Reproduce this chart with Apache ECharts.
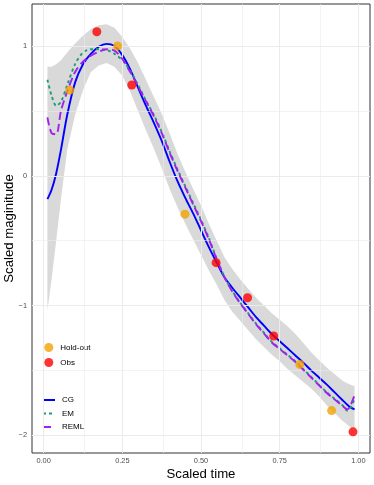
<!DOCTYPE html>
<html>
<head>
<meta charset="utf-8">
<script src="https://cdn.jsdelivr.net/npm/echarts@6/dist/echarts.min.js"></script>
<style>
  html, body { margin: 0; padding: 0; background: #fff; }
  #chart { width: 374px; height: 485px; }
</style>
</head>
<body>
<div id="chart"></div>
<script>
// scaled time grid used by fitted curves and the confidence band
var timeGrid = [0.012, 0.025, 0.04, 0.055, 0.075, 0.1, 0.125, 0.15, 0.175, 0.2, 0.225, 0.25, 0.275, 0.3,
  0.325, 0.35, 0.375, 0.4, 0.425, 0.45, 0.475, 0.5, 0.525, 0.55, 0.575, 0.6, 0.625, 0.65, 0.675, 0.7,
  0.725, 0.75, 0.775, 0.8, 0.825, 0.85, 0.875, 0.9, 0.925, 0.95, 0.965, 0.975, 0.988];

// fitted curves
var cgFit = [-0.18, -0.11, 0.02, 0.2, 0.47, 0.72, 0.86, 0.94, 0.995, 1.017, 1.0, 0.93, 0.82, 0.68,
  0.54, 0.41, 0.27, 0.11, -0.04, -0.17, -0.29, -0.42, -0.55, -0.67, -0.785, -0.865, -0.94, -1.015, -1.09, -1.155,
  -1.22, -1.275, -1.33, -1.385, -1.44, -1.5, -1.555, -1.61, -1.67, -1.73, -1.765, -1.785, -1.8];
var emFit = [0.74, 0.62, 0.54, 0.57, 0.7, 0.86, 0.95, 0.975, 0.975, 0.97, 0.94, 0.89, 0.81, 0.7,
  0.58, 0.47, 0.34, 0.19, 0.05, -0.08, -0.21, -0.34, -0.48, -0.64, -0.78, -0.89, -0.98, -1.06, -1.14, -1.21,
  -1.28, -1.33, -1.38, -1.43, -1.49, -1.55, -1.61, -1.67, -1.72, -1.77, -1.81, -1.79, -1.72];
var remlFit = [0.45, 0.33, 0.32, 0.5, 0.65, 0.8, 0.88, 0.925, 0.955, 0.975, 0.965, 0.9, 0.8, 0.69,
  0.575, 0.46, 0.33, 0.18, 0.04, -0.09, -0.22, -0.35, -0.49, -0.645, -0.785, -0.895, -0.985, -1.065, -1.145, -1.215,
  -1.285, -1.335, -1.385, -1.435, -1.495, -1.555, -1.615, -1.675, -1.725, -1.775, -1.8, -1.77, -1.69];

// grey band around CG
var bandLower = [-1.04, -0.8, -0.5, -0.18, 0.2, 0.47, 0.66, 0.8, 0.85, 0.87, 0.84, 0.77, 0.65, 0.5,
  0.35, 0.21, 0.06, -0.1, -0.24, -0.37, -0.49, -0.61, -0.73, -0.84, -0.96, -1.05, -1.12, -1.19, -1.26, -1.32,
  -1.38, -1.43, -1.49, -1.54, -1.59, -1.64, -1.7, -1.77, -1.83, -1.89, -1.92, -1.94, -1.95];
var bandUpper = [0.84, 0.84, 0.86, 0.89, 0.95, 1.02, 1.08, 1.13, 1.16, 1.167, 1.14, 1.07, 0.98, 0.87,
  0.74, 0.61, 0.48, 0.33, 0.17, 0.03, -0.1, -0.23, -0.37, -0.5, -0.63, -0.72, -0.8, -0.87, -0.94, -1.0,
  -1.06, -1.11, -1.16, -1.22, -1.29, -1.36, -1.42, -1.48, -1.53, -1.58, -1.6, -1.61, -1.62];

// points
var holdOutTime = [0.083, 0.235, 0.449, 0.814, 0.915];
var holdOutMag = [0.66, 1.0, -0.296, -1.454, -1.81];
var obsTime = [0.169, 0.28, 0.548, 0.648, 0.731, 0.983];
var obsMag = [1.11, 0.70, -0.67, -0.94, -1.235, -1.974];

// axis ticks
var xTicks = [0, 0.25, 0.5, 0.75, 1];
var xMinor = [0.125, 0.375, 0.625, 0.875];
var yTicks = [-2, -1, 0, 1];
var yMinor = [-1.5, -0.5, 0.5];

var font = 'Liberation Sans, Arial, sans-serif';

function pairs(xs, ys) {
  return xs.map(function (x, i) { return [x, ys[i]]; });
}

var bandRows = timeGrid.map(function (t, i) { return [t, bandLower[i], bandUpper[i]]; });

var gridLines = [];
xTicks.forEach(function (v) { gridLines.push({xAxis: v}); });
yTicks.forEach(function (v) { gridLines.push({yAxis: v}); });
xMinor.forEach(function (v) { gridLines.push({xAxis: v, lineStyle: {width: 0.6}}); });
yMinor.forEach(function (v) { gridLines.push({yAxis: v, lineStyle: {width: 0.6}}); });

// whole band as one polygon, drawn once
function renderBand(params, api) {
  if (params.dataIndex !== 0) return null;
  var pts = [];
  bandRows.forEach(function (r) { pts.push(api.coord([r[0], r[2]])); });
  for (var i = bandRows.length - 1; i >= 0; i--) {
    pts.push(api.coord([bandRows[i][0], bandRows[i][1]]));
  }
  return {
    type: 'polygon',
    shape: {points: pts},
    style: {fill: '#d9d9d9', stroke: null}
  };
}

var chart = echarts.init(document.getElementById('chart'));

var lineLegendText = {fontSize: 8, color: '#000', fontFamily: font, padding: [0, 0, 0, 2]};

var option = {
  animation: false,
  backgroundColor: '#fff',
  textStyle: {fontFamily: font},
  grid: {
    left: 32, right: 4, top: 4, bottom: 32,
    containLabel: false, outerBoundsMode: 'none',
    show: true, borderColor: '#333', borderWidth: 1, backgroundColor: 'transparent'
  },
  legend: [{
    data: ['Hold-out', 'Obs'],
    orient: 'vertical', left: 39.3, top: 330,
    padding: [13, 5, 7, 5],
    backgroundColor: '#fff',
    icon: 'circle', itemWidth: 9, itemHeight: 9, itemGap: 6,
    textStyle: lineLegendText
  }, {
    data: ['CG', 'EM', 'REML'],
    orient: 'vertical', left: 37, top: 392,
    padding: [4, 5, 6, 5],
    backgroundColor: '#fff',
    itemWidth: 12, itemHeight: 9, itemGap: 5.5,
    itemStyle: {opacity: 0},
    textStyle: lineLegendText
  }],
  xAxis: {
    type: 'value', min: -0.037, max: 1.037,
    axisLine: {show: false},
    splitLine: {show: false},
    axisTick: {show: true, customValues: xTicks, length: 3, lineStyle: {color: '#333', width: 0.8}},
    axisLabel: {
      customValues: xTicks, fontSize: 7.4, color: '#4d4d4d', margin: 4.5, fontFamily: font,
      formatter: function (v) { return v.toFixed(2); }
    },
    name: 'Scaled time', nameLocation: 'middle', nameGap: 14.5, nameMoveOverlap: false,
    nameTextStyle: {fontSize: 13.2, color: '#000', fontFamily: font}
  },
  yAxis: {
    type: 'value', min: -2.137, max: 1.324,
    axisLine: {show: false},
    splitLine: {show: false},
    axisTick: {show: true, customValues: yTicks, length: 3, lineStyle: {color: '#333', width: 0.8}},
    axisLabel: {
      customValues: yTicks, fontSize: 7.4, color: '#4d4d4d', margin: 5, fontFamily: font,
      formatter: function (v) { return v < 0 ? '\u2212' + Math.abs(v) : String(v); }
    },
    name: 'Scaled maginitude', nameLocation: 'middle', nameGap: 16, nameMoveOverlap: false,
    nameTextStyle: {fontSize: 13.2, color: '#000', fontFamily: font}
  },
  series: [
    {
      name: 'gridlines', type: 'line', z: 1, data: [], symbol: 'none',
      markLine: {
        silent: true, symbol: ['none', 'none'], label: {show: false},
        lineStyle: {color: '#ebebeb', width: 1, type: 'solid'},
        emphasis: {disabled: true},
        data: gridLines
      }
    },
    {
      name: 'band', type: 'custom', z: 2, renderItem: renderBand, clip: true, silent: true,
      data: bandRows, encode: {x: 0, y: [1, 2]}
    },
    {
      name: 'CG', type: 'line', z: 3, data: pairs(timeGrid, cgFit), symbol: 'none', smooth: 0.3,
      color: '#0000ff', lineStyle: {color: '#0000ff', width: 1.9, type: 'solid'}
    },
    {
      name: 'EM', type: 'line', z: 4, data: pairs(timeGrid, emFit), symbol: 'none', smooth: 0.3,
      color: '#1b9e77', lineStyle: {color: '#1b9e77', width: 1.9, type: [3, 3]}
    },
    {
      name: 'REML', type: 'line', z: 5, data: pairs(timeGrid, remlFit), symbol: 'none', smooth: 0.3,
      color: '#a020f0', lineStyle: {color: '#a020f0', width: 1.9, type: [8, 4]}
    },
    {
      name: 'Hold-out', type: 'scatter', z: 6, data: pairs(holdOutTime, holdOutMag),
      symbol: 'circle', symbolSize: 9, itemStyle: {color: '#f2a100'}
    },
    {
      name: 'Obs', type: 'scatter', z: 7, data: pairs(obsTime, obsMag),
      symbol: 'circle', symbolSize: 9, itemStyle: {color: '#ff0000'}
    }
  ]
};

chart.setOption(option);
</script>
</body>
</html>
